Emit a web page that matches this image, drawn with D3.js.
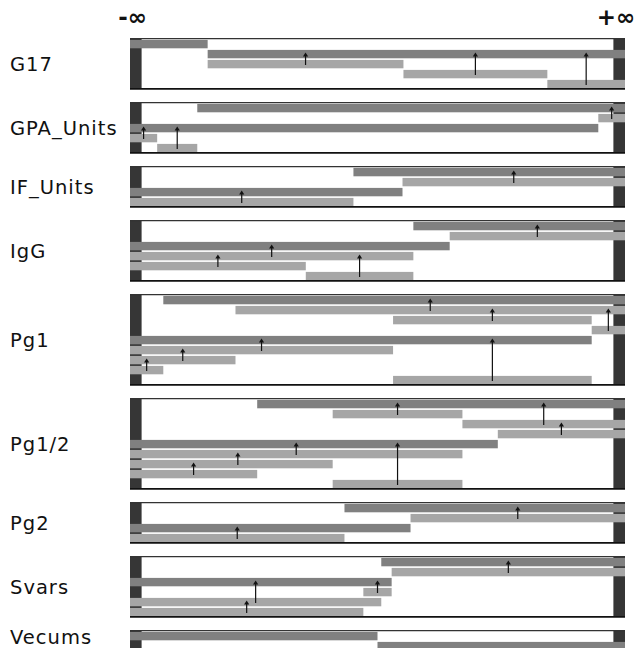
<!DOCTYPE html>
<html>
<head>
<meta charset="utf-8">
<script src="https://cdn.jsdelivr.net/npm/d3@7"></script>
<style>
  html, body { margin: 0; padding: 0; background: #fff; }
  svg { display: block; }
</style>
</head>
<body>
<div id="chart"></div>
<script>
const I = Infinity;
// Category names (one panel per variable)
const panelNames = ["G17", "GPA_Units", "IF_Units", "IgG", "Pg1", "Pg1/2", "Pg2", "Svars", "Vecums"];
// Axis end labels
const axisLabels = ["-\u221E", "+\u221E"];

// Each row: [lower bound, upper bound, kind ("dark" = root interval, "light" = sub-interval), parent row index or null, optional arrow position]
// Values are on a 0..100 scale of each variable's finite range; -I / I are open ends.
const G17 = [
  [-I, 14.0, "dark", null],
  [14.0, I, "dark", null],
  [14.0, 55.5, "light", 1],
  [55.5, 86.0, "light", 1],
  [86.0, I, "light", 1]
];
const GPA_Units = [
  [11.8, I, "dark", null],
  [96.8, I, "light", 0],
  [-I, 96.8, "dark", null],
  [-I, 3.3, "light", 2],
  [3.3, 11.8, "light", 2]
];
const IF_Units = [
  [44.9, I, "dark", null],
  [55.3, I, "light", 0],
  [-I, 55.3, "dark", null],
  [-I, 44.9, "light", 2]
];
const IgG = [
  [57.6, I, "dark", null],
  [65.3, I, "light", 0],
  [-I, 65.3, "dark", null],
  [-I, 57.6, "light", 2],
  [-I, 34.8, "light", 3],
  [34.8, 57.6, "light", 3]
];
const Pg1 = [
  [4.6, I, "dark", null],
  [19.9, I, "light", 0],
  [53.3, 95.4, "light", 1],
  [95.4, I, "light", 1],
  [-I, 95.4, "dark", null],
  [-I, 53.3, "light", 4],
  [-I, 19.9, "light", 5],
  [-I, 4.6, "light", 6],
  [53.3, 95.4, "light", 4]
];
const Pg1_2 = [
  [24.5, I, "dark", null],
  [40.5, 68.0, "light", 0],
  [68.0, I, "light", 0],
  [75.5, I, "light", 2],
  [-I, 75.5, "dark", null],
  [-I, 68.0, "light", 4],
  [-I, 40.5, "light", 5, 20.4],
  [-I, 24.5, "light", 6],
  [40.5, 68.0, "light", 4]
];
const Pg2 = [
  [43.0, I, "dark", null],
  [57.0, I, "light", 0],
  [-I, 57.0, "dark", null],
  [-I, 43.0, "light", 2]
];
const Svars = [
  [50.8, I, "dark", null],
  [53.0, I, "light", 0],
  [-I, 53.0, "dark", null],
  [47.0, 53.0, "light", 2],
  [-I, 50.8, "light", 2],
  [-I, 47.0, "light", 4]
];
const Vecums = [
  [-I, 50.0, "dark", null],
  [50.0, I, "dark", null]
];
const panelRows = [G17, GPA_Units, IF_Units, IgG, Pg1, Pg1_2, Pg2, Svars, Vecums];

// ---- layout & style ----
const W = 635, H = 648;
const boxLeft = 130, boxRight = 625, stripW = 11.6;
const rowH = 10, panelGap = 14, firstTop = 38.6;
const colors = { dark: "#808080", light: "#a6a6a6", strip: "#363636" };

const x = d3.scaleLinear().domain([0, 100]).range([boxLeft + stripW, boxRight - stripW]);
const pos = v => v === -Infinity ? boxLeft : (v === Infinity ? boxRight : x(v));

const svg = d3.select("#chart").append("svg").attr("width", W).attr("height", H);
svg.append("rect").attr("width", W).attr("height", H).attr("fill", "#fff");

// header labels
svg.append("text").attr("x", pos(-Infinity) + 2.5).attr("y", 25)
  .attr("text-anchor", "middle").attr("font-family", "DejaVu Sans").attr("font-weight", "bold")
  .attr("font-size", 23).attr("fill", "#111").text(axisLabels[0]);
svg.append("text").attr("x", pos(Infinity) - 9).attr("y", 25)
  .attr("text-anchor", "middle").attr("font-family", "DejaVu Sans").attr("font-weight", "bold")
  .attr("font-size", 23).attr("fill", "#111").text(axisLabels[1]);

let yTop = firstTop;
panelRows.forEach((rows, pi) => {
  const n = rows.length;
  const y = d3.scaleLinear().domain([0, n]).range([yTop, yTop + n * rowH]);
  const g = svg.append("g");

  // label
  g.append("text").attr("x", 10).attr("y", Math.min(y(n / 2), H - 11)).attr("dy", "0.38em")
    .attr("font-family", "DejaVu Sans").attr("font-size", 19.5).attr("letter-spacing", 1)
    .attr("fill", "#111")
    .text(panelNames[pi]);

  // end strips
  g.append("rect").attr("x", boxLeft).attr("y", y(0)).attr("width", stripW).attr("height", y(n) - y(0)).attr("fill", colors.strip);
  g.append("rect").attr("x", boxRight - stripW).attr("y", y(0)).attr("width", stripW).attr("height", y(n) - y(0)).attr("fill", colors.strip);

  // bars
  g.selectAll("rect.bar").data(rows).join("rect").attr("class", "bar")
    .attr("x", d => pos(d[0]))
    .attr("width", d => pos(d[1]) - pos(d[0]))
    .attr("y", (d, i) => y(i) + 1.3)
    .attr("height", rowH - 1.6)
    .attr("fill", d => colors[d[2]]);

  // borders
  g.append("line").attr("x1", boxLeft).attr("x2", boxRight).attr("y1", y(0)).attr("y2", y(0))
    .attr("stroke", "#333").attr("stroke-width", 1.2);
  g.append("line").attr("x1", boxLeft).attr("x2", boxRight).attr("y1", y(n) + 0.3).attr("y2", y(n) + 0.3)
    .attr("stroke", "#111").attr("stroke-width", 1.6);

  // arrows from sub-interval to its parent
  rows.forEach((d, i) => {
    if (d[3] === null) return;
    const ax = d[4] !== undefined ? x(d[4]) : (pos(d[0]) + pos(d[1])) / 2;
    const yc = y(i + 0.5) + 1.4;
    const yp = y(d[3] + 0.5) - 1.2;
    g.append("line").attr("x1", ax).attr("x2", ax).attr("y1", yc).attr("y2", yp + 3)
      .attr("stroke", "#111").attr("stroke-width", 1.2);
    g.append("path")
      .attr("d", `M${ax},${yp} L${ax - 2.6},${yp + 4.2} L${ax + 2.6},${yp + 4.2} Z`)
      .attr("fill", "#111");
  });

  yTop += n * rowH + panelGap;
});
</script>
</body>
</html>
